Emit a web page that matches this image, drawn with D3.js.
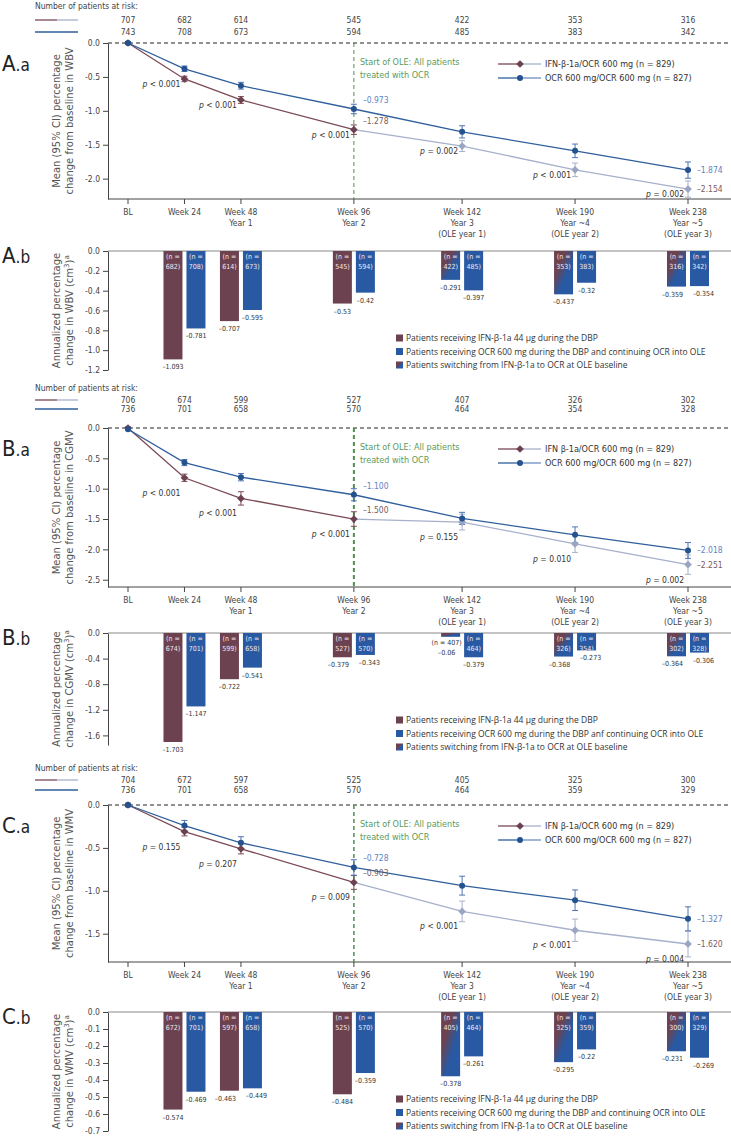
<!DOCTYPE html>
<html>
<head>
<meta charset="utf-8">
<script src="https://cdn.jsdelivr.net/npm/d3@7"></script>
<style>
  body { margin: 0; background: #fff; }
  text { font-family: "Liberation Sans Narrow", "DejaVu Sans Condensed", "Roboto", sans-serif; }
</style>
</head>
<body>
<script>
const width = 731,
  height = 1136;

const weeks = [0, 24, 48, 96, 142, 190, 238];
const weekLabels = [
  ["BL"],
  ["Week 24"],
  ["Week 48", "Year 1"],
  ["Week 96", "Year 2"],
  ["Week 142", "Year 3", "(OLE year 1)"],
  ["Week 190", "Year ~4", "(OLE year 2)"],
  ["Week 238", "Year ~5", "(OLE year 3)"]
];

// A: whole brain volume
const wbvRiskIfn = [707, 682, 614, 545, 422, 353, 316];
const wbvRiskOcr = [743, 708, 673, 594, 485, 383, 342];
const wbvMeanIfn = [0, -0.53, -0.84, -1.278, -1.52, -1.87, -2.154];
const wbvCiIfn = [0.02, 0.04, 0.05, 0.07, 0.08, 0.1, 0.12];
const wbvMeanOcr = [0, -0.38, -0.63, -0.973, -1.31, -1.59, -1.874];
const wbvCiOcr = [0.02, 0.04, 0.05, 0.07, 0.09, 0.1, 0.12];
const wbvP = ["< 0.001", "< 0.001", "< 0.001", "= 0.002", "< 0.001", "= 0.002"];
const wbvAnnIfn = [-1.093, -0.707, -0.53, -0.291, -0.437, -0.359];
const wbvAnnOcr = [-0.781, -0.595, -0.42, -0.397, -0.32, -0.354];

// B: cortical grey matter volume
const cgmvRiskIfn = [706, 674, 599, 527, 407, 326, 302];
const cgmvRiskOcr = [736, 701, 658, 570, 464, 354, 328];
const cgmvMeanIfn = [0, -0.82, -1.16, -1.5, -1.55, -1.91, -2.251];
const cgmvCiIfn = [0.02, 0.06, 0.11, 0.12, 0.13, 0.14, 0.16];
const cgmvMeanOcr = [-0.02, -0.57, -0.81, -1.1, -1.49, -1.76, -2.018];
const cgmvCiOcr = [0.02, 0.05, 0.06, 0.1, 0.1, 0.13, 0.13];
const cgmvP = ["< 0.001", "< 0.001", "< 0.001", "= 0.155", "= 0.010", "= 0.002"];
const cgmvAnnIfn = [-1.703, -0.722, -0.379, -0.06, -0.368, -0.364];
const cgmvAnnOcr = [-1.147, -0.541, -0.343, -0.379, -0.273, -0.306];

// C: white matter volume
const wmvRiskIfn = [704, 672, 597, 525, 405, 325, 300];
const wmvRiskOcr = [736, 701, 658, 570, 464, 359, 329];
const wmvMeanIfn = [0, -0.31, -0.51, -0.903, -1.24, -1.46, -1.62];
const wmvCiIfn = [0.02, 0.05, 0.06, 0.08, 0.12, 0.13, 0.15];
const wmvMeanOcr = [0, -0.24, -0.44, -0.728, -0.94, -1.11, -1.327];
const wmvCiOcr = [0.02, 0.06, 0.07, 0.09, 0.11, 0.12, 0.14];
const wmvP = ["= 0.155", "= 0.207", "= 0.009", "< 0.001", "< 0.001", "= 0.004"];
const wmvAnnIfn = [-0.574, -0.463, -0.484, -0.378, -0.295, -0.231];
const wmvAnnOcr = [-0.469, -0.449, -0.359, -0.261, -0.22, -0.269];

const brown = "#6d4250",
  brownLine = "#7b4a55",
  blue = "#2859a2",
  blueLine = "#2f5f9c",
  light = "#a6b0cb",
  green = "#4f8f4f",
  axisCol = "#444";

const svg = d3.select("body").append("svg").attr("width", width).attr("height", height);

const defs = svg.append("defs");
const grad = defs.append("linearGradient").attr("id", "switchGrad").attr("x1", 0).attr("y1", 0).attr("x2", 1).attr("y2", 1);
grad.append("stop").attr("offset", "0.3").attr("stop-color", brown);
grad.append("stop").attr("offset", "0.6").attr("stop-color", blue);
const gradSw = defs.append("linearGradient").attr("id", "switchSwatch").attr("x1", 0).attr("y1", 0).attr("x2", 1).attr("y2", 1);
gradSw.append("stop").attr("offset", "0.45").attr("stop-color", brown);
gradSw.append("stop").attr("offset", "0.55").attr("stop-color", blue);

const panels = [
  {
    id: "A", measure: "WBV",
    riskIfn: wbvRiskIfn, riskOcr: wbvRiskOcr,
    meanIfn: wbvMeanIfn, ciIfn: wbvCiIfn, meanOcr: wbvMeanOcr, ciOcr: wbvCiOcr,
    pText: wbvP, annIfn: wbvAnnIfn, annOcr: wbvAnnOcr,
    ifnName: "IFN-β-1a/OCR 600 mg (n = 829)",
    ocrBarName: "Patients receiving OCR 600 mg during the DBP and continuing OCR into OLE",
    lineTicks: [0, -0.5, -1, -1.5, -2], lineMin: -2.3,
    barTicks: [0, -0.2, -0.4, -0.6, -0.8, -1, -1.2], barMin: -1.2,
    riskY: [6, 20, 32], top: 43, bottom: 199, barTop: 251, barBottom: 370,
    oleWidth: 1, pDy: 8
  },
  {
    id: "B", measure: "CGMV",
    riskIfn: cgmvRiskIfn, riskOcr: cgmvRiskOcr,
    meanIfn: cgmvMeanIfn, ciIfn: cgmvCiIfn, meanOcr: cgmvMeanOcr, ciOcr: cgmvCiOcr,
    pText: cgmvP, annIfn: cgmvAnnIfn, annOcr: cgmvAnnOcr,
    ifnName: "IFN β-1a/OCR 600 mg (n = 829)",
    ocrBarName: "Patients receiving OCR 600 mg during the DBP anf continuing OCR into OLE",
    lineTicks: [0, -0.5, -1, -1.5, -2, -2.5], lineMin: -2.62,
    barTicks: [0, -0.4, -0.8, -1.2, -1.6], barMin: -1.75,
    riskY: [388, 400, 409], top: 428, bottom: 587, barTop: 633, barBottom: 745,
    oleWidth: 2, pDy: 18
  },
  {
    id: "C", measure: "WMV",
    riskIfn: wmvRiskIfn, riskOcr: wmvRiskOcr,
    meanIfn: wmvMeanIfn, ciIfn: wmvCiIfn, meanOcr: wmvMeanOcr, ciOcr: wmvCiOcr,
    pText: wmvP, annIfn: wmvAnnIfn, annOcr: wmvAnnOcr,
    ifnName: "IFN β-1a/OCR 600 mg (n = 829)",
    ocrBarName: "Patients receiving OCR 600 mg during the DBP and continuing OCR into OLE",
    lineTicks: [0, -0.5, -1, -1.5], lineMin: -1.83,
    barTicks: [0, -0.1, -0.2, -0.3, -0.4, -0.5, -0.6, -0.7], barMin: -0.7,
    riskY: [768, 780, 790], top: 805, bottom: 962, barTop: 1012, barBottom: 1131,
    oleWidth: 1.5, pDy: 18
  }
];

const x = d3.scaleLinear().domain([0, 238]).range([128, 688]);
const dash = s => String(s).replace("-", "–");
const diamond = d3.symbol().type(d3.symbolSquare).size(30);

function styleAxis(ax) {
  ax.select(".domain").attr("stroke", axisCol);
  ax.selectAll(".tick line").attr("stroke", axisCol);
  ax.selectAll(".tick text").attr("font-size", 8.5).attr("fill", axisCol)
    .style("font-family", '"Liberation Sans Narrow", "DejaVu Sans Condensed", sans-serif');
}

function panelLabel(g, y, letter, sub) {
  const t = g.append("text").attr("x", 2).attr("y", y).attr("fill", "#222");
  t.append("tspan").attr("font-size", 22).text(letter);
  t.append("tspan").attr("font-size", 17).text("." + sub);
}

function yTitle(g, cy, lines) {
  g.append("text")
    .attr("transform", `translate(60,${cy}) rotate(-90)`)
    .attr("text-anchor", "middle")
    .style("font-family", '"DejaVu Sans", Verdana, sans-serif')
    .attr("font-size", 10)
    .attr("fill", "#555")
    .selectAll("tspan")
    .data(lines)
    .join("tspan")
    .attr("x", 0)
    .attr("dy", (d, i) => (i ? 13 : 0))
    .html(d => d);
}

function drawPanel(p) {
  const g = svg.append("g");
  const y = d3.scaleLinear().domain([p.lineMin, 0]).range([p.bottom, p.top]);

  // patients at risk
  g.append("text").attr("x", 35).attr("y", p.riskY[0] + 3).attr("font-size", 8.5).attr("fill", "#444")
    .text("Number of patients at risk:");
  g.append("line").attr("x1", 35).attr("x2", 57).attr("y1", p.riskY[1]).attr("y2", p.riskY[1]).attr("stroke", brownLine).attr("stroke-width", 1.3);
  g.append("line").attr("x1", 57).attr("x2", 78).attr("y1", p.riskY[1]).attr("y2", p.riskY[1]).attr("stroke", light).attr("stroke-width", 1.3);
  g.append("line").attr("x1", 35).attr("x2", 78).attr("y1", p.riskY[2]).attr("y2", p.riskY[2]).attr("stroke", blueLine).attr("stroke-width", 1.3);
  [p.riskIfn, p.riskOcr].forEach((arr, k) => {
    g.selectAll(null).data(arr).join("text")
      .attr("x", (d, i) => x(weeks[i]))
      .attr("y", p.riskY[k + 1] + 3)
      .attr("text-anchor", "middle")
      .attr("font-size", 8.5)
      .attr("fill", "#444")
      .text(d => d);
  });

  // axes
  const ya = g.append("g").attr("transform", "translate(108,0)")
    .call(d3.axisLeft(y).tickValues(p.lineTicks).tickFormat(d => d.toFixed(1)).tickSize(5).tickSizeOuter(0));
  styleAxis(ya);
  g.append("line").attr("x1", 108).attr("x2", width).attr("y1", p.bottom).attr("y2", p.bottom).attr("stroke", axisCol);
  g.selectAll(null).data(weeks).join("line")
    .attr("x1", d => x(d)).attr("x2", d => x(d))
    .attr("y1", p.bottom).attr("y2", p.bottom + 5)
    .attr("stroke", axisCol);
  const tl = g.selectAll(null).data(weekLabels).join("text")
    .attr("text-anchor", "middle").attr("font-size", 8.5).attr("fill", axisCol);
  tl.selectAll("tspan").data((d, i) => d.map(s => ({ s, w: weeks[i] }))).join("tspan")
    .attr("x", d => x(d.w))
    .attr("y", (d, j) => p.bottom + 16 + j * 11)
    .text(d => d.s);

  // reference lines
  g.append("line").attr("x1", 108).attr("x2", width).attr("y1", y(0)).attr("y2", y(0))
    .attr("stroke", "#222").attr("stroke-dasharray", "4,3");
  g.append("line").attr("x1", x(96)).attr("x2", x(96)).attr("y1", y(0)).attr("y2", p.bottom)
    .attr("stroke", green).attr("stroke-width", p.oleWidth).attr("stroke-dasharray", "4,3");
  g.append("text").attr("x", x(96) + 6).attr("y", p.top + 22).attr("font-size", 9).attr("fill", "#5a9a5a")
    .selectAll("tspan").data(["Start of OLE: All patients", "treated with OCR"]).join("tspan")
    .attr("x", x(96) + 6).attr("dy", (d, i) => (i ? 13 : 0)).text(d => d);

  // legend
  const leg = [
    { name: p.ifnName, c1: brownLine, c2: light, mk: "d", mc: brown },
    { name: "OCR 600 mg/OCR 600 mg (n = 827)", c1: blueLine, c2: "#6f8fc2", mk: "c", mc: "#24528e" }
  ];
  leg.forEach((d, i) => {
    const ly = p.top + 21 + i * 14;
    g.append("line").attr("x1", 498).attr("x2", 520).attr("y1", ly).attr("y2", ly).attr("stroke", d.c1).attr("stroke-width", 1.3);
    g.append("line").attr("x1", 520).attr("x2", 541).attr("y1", ly).attr("y2", ly).attr("stroke", d.c2).attr("stroke-width", 1.3);
    if (d.mk === "d") {
      g.append("path").attr("d", diamond()).attr("transform", `translate(520,${ly}) rotate(45)`).attr("fill", d.mc);
    } else {
      g.append("circle").attr("cx", 520).attr("cy", ly).attr("r", 3).attr("fill", d.mc);
    }
    g.append("text").attr("x", 545).attr("y", ly + 3).attr("font-size", 9).attr("fill", "#333").text(d.name);
  });

  // series
  const ifn = weeks.map((w, i) => ({ w, m: p.meanIfn[i], c: p.ciIfn[i], i }));
  const ocr = weeks.map((w, i) => ({ w, m: p.meanOcr[i], c: p.ciOcr[i], i }));
  const line = d3.line().x(d => x(d.w)).y(d => y(d.m));

  function errorBars(data, colorFn) {
    const eb = g.append("g");
    eb.selectAll(null).data(data).join("line")
      .attr("x1", d => x(d.w)).attr("x2", d => x(d.w))
      .attr("y1", d => y(d.m - d.c)).attr("y2", d => y(d.m + d.c))
      .attr("stroke", colorFn).attr("stroke-width", 1);
    ["-", "+"].forEach(s => {
      eb.selectAll(null).data(data).join("line")
        .attr("x1", d => x(d.w) - 3).attr("x2", d => x(d.w) + 3)
        .attr("y1", d => y(s === "-" ? d.m - d.c : d.m + d.c))
        .attr("y2", d => y(s === "-" ? d.m - d.c : d.m + d.c))
        .attr("stroke", colorFn).attr("stroke-width", 1);
    });
  }
  errorBars(ifn, d => (d.w > 96 ? light : brownLine));
  errorBars(ocr, "#4f74b4");

  g.append("path").datum(ifn.filter(d => d.w <= 96)).attr("d", line).attr("fill", "none").attr("stroke", brownLine).attr("stroke-width", 1.3);
  g.append("path").datum(ifn.filter(d => d.w >= 96)).attr("d", line).attr("fill", "none").attr("stroke", light).attr("stroke-width", 1.3);
  g.append("path").datum(ocr).attr("d", line).attr("fill", "none").attr("stroke", blueLine).attr("stroke-width", 1.3);

  g.selectAll(null).data(ifn).join("path")
    .attr("d", diamond())
    .attr("transform", d => `translate(${x(d.w)},${y(d.m)}) rotate(45)`)
    .attr("fill", d => (d.w > 96 ? "#9aa5c2" : brown));
  g.selectAll(null).data(ocr).join("circle")
    .attr("cx", d => x(d.w)).attr("cy", d => y(d.m)).attr("r", 3).attr("fill", "#24528e");

  // p values
  const pt = g.selectAll(null).data(ifn.slice(1)).join("text")
    .attr("x", d => x(d.w) - 4)
    .attr("y", (d, i) => y(d.m) + p.pDy)
    .attr("text-anchor", "end")
    .attr("font-size", 8.5)
    .attr("fill", "#333");
  pt.append("tspan").attr("font-style", "italic").text("p");
  pt.append("tspan").text((d, i) => " " + p.pText[i]);

  // value labels at week 96 and last visit
  [3, 6].forEach(i => {
    const dy = i === 3 ? -6 : 3;
    g.append("text").attr("x", x(weeks[i]) + 9).attr("y", y(p.meanOcr[i]) + dy).attr("font-size", 8.5).attr("fill", "#5d84c5")
      .text(dash(p.meanOcr[i].toFixed(3)));
    g.append("text").attr("x", x(weeks[i]) + 9).attr("y", y(p.meanIfn[i]) + dy).attr("font-size", 8.5).attr("fill", "#7b5b5e")
      .text(dash(p.meanIfn[i].toFixed(3)));
  });

  panelLabel(g, p.top + 28, p.id, "a");
  yTitle(g, (p.top + p.bottom) / 2, ["Mean (95% CI) percentage", "change from baseline in " + p.measure]);

  // ---- annualized bar chart ----
  const yb = d3.scaleLinear().domain([p.barMin, 0]).range([p.barBottom, p.barTop]);
  const yba = g.append("g").attr("transform", "translate(108,0)")
    .call(d3.axisLeft(yb).tickValues(p.barTicks).tickFormat(d => d.toFixed(1)).tickSize(5).tickSizeOuter(0));
  styleAxis(yba);
  g.append("line").attr("x1", 108).attr("x2", width).attr("y1", yb(0)).attr("y2", yb(0)).attr("stroke", "#888");

  const bars = [];
  weeks.slice(1).forEach((w, i) => {
    bars.push({ w, v: p.annIfn[i], n: p.riskIfn[i + 1], grp: "ifn", other: p.annOcr[i] });
    bars.push({ w, v: p.annOcr[i], n: p.riskOcr[i + 1], grp: "ocr", other: p.annIfn[i] });
  });
  const bx = d => (d.grp === "ifn" ? x(d.w) - 21 : x(d.w) + 2);
  const bw = 19;

  g.selectAll(null).data(bars).join("rect")
    .attr("x", bx).attr("width", bw)
    .attr("y", yb(0)).attr("height", d => yb(d.v) - yb(0))
    .attr("fill", d => (d.grp === "ocr" ? blue : d.w > 96 ? "url(#switchGrad)" : brown));

  bars.forEach(d => {
    const cx = bx(d) + bw / 2;
    const h = yb(d.v) - yb(0);
    if (h < 15) {
      g.append("text").attr("x", cx - 4).attr("y", yb(d.v) + 8).attr("text-anchor", "middle")
        .attr("font-size", 7).attr("fill", "#333").text(`(n = ${d.n})`);
      g.append("text").attr("x", cx - 4).attr("y", yb(d.v) + 18).attr("text-anchor", "middle")
        .attr("font-size", 7).attr("fill", "#333").text(dash(d.v));
      return;
    }
    g.append("text").attr("x", cx).attr("y", yb(0) + 7.5).attr("text-anchor", "middle")
      .attr("font-size", 7).attr("fill", "#f2e9ee").text("(n =");
    g.append("text").attr("x", cx).attr("y", yb(0) + 18).attr("text-anchor", "middle")
      .attr("font-size", 7).attr("fill", "#f2e9ee").text(d.n + ")");
    const close = Math.abs(yb(d.v) - yb(d.other)) < 9;
    const shift = close ? (d.grp === "ifn" ? -4 : 4) : 0;
    g.append("text").attr("x", cx + shift).attr("y", yb(d.v) + 10).attr("text-anchor", "middle")
      .attr("font-size", 7).attr("fill", "#333").text(dash(d.v));
  });

  const barLeg = [
    { name: "Patients receiving IFN-β-1a 44 µg during the DBP", fill: brown },
    { name: p.ocrBarName, fill: blue },
    { name: "Patients switching from IFN-β-1a to OCR at OLE baseline", fill: "url(#switchSwatch)" }
  ];
  barLeg.forEach((d, i) => {
    const ly = p.barTop + 87 + i * 13.5;
    g.append("rect").attr("x", 396).attr("y", ly - 3.5).attr("width", 7).attr("height", 7).attr("fill", d.fill);
    g.append("text").attr("x", 406).attr("y", ly + 3)
      .style("font-family", '"Open Sans", "Noto Sans", sans-serif')
      .attr("font-size", 8.5).attr("fill", "#333").text(d.name);
  });

  panelLabel(g, p.barTop + 12, p.id, "b");
  yTitle(g, (p.barTop + p.barBottom) / 2, ["Annualized percentage", `change in ${p.measure} (cm<tspan font-size="7" dy="-4">3</tspan><tspan dy="4">)</tspan><tspan font-size="7" dy="-4">a</tspan>`]);
}

panels.forEach(drawPanel);
</script>
</body>
</html>
